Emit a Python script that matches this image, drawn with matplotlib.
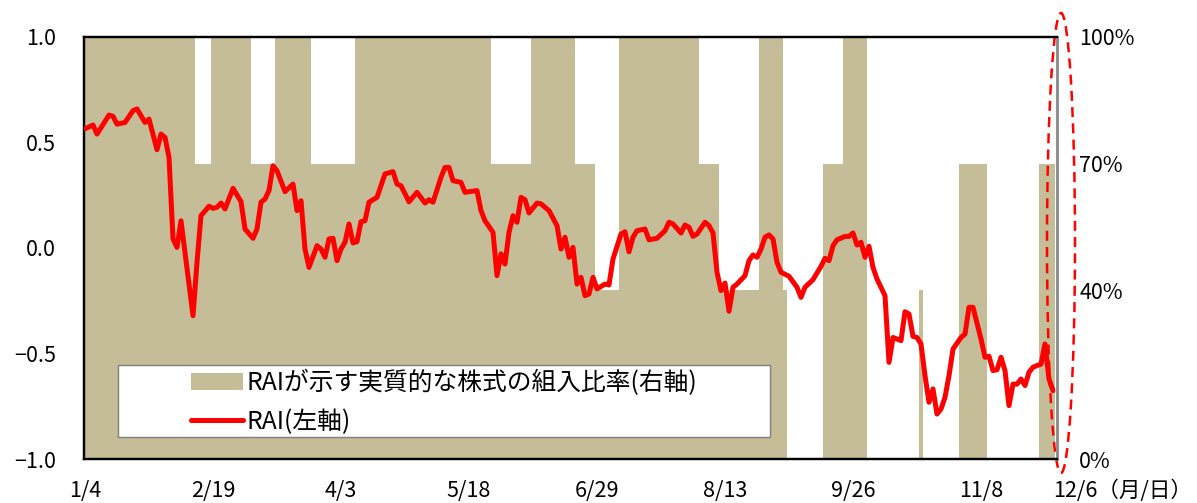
import numpy as np
import matplotlib
matplotlib.use("Agg")
import matplotlib.pyplot as plt
from matplotlib.patches import Patch, Rectangle, Ellipse
from matplotlib.lines import Line2D
from matplotlib.ticker import FixedLocator, FuncFormatter

plt.rcParams['font.family'] = ['Noto Sans CJK JP', 'DejaVu Sans']
plt.rcParams['axes.unicode_minus'] = True

# ---------------- data ----------------
# trading-day index (0 = 1/4) and RAI value
rai_day = [0, 2, 3, 6, 7, 8, 10, 12, 13, 15, 16, 18, 19, 20, 21, 22, 23, 24, 27, 28, 29,
           31, 32, 33, 34, 35, 37, 39, 40, 42, 43, 44, 45, 46, 47, 48, 50, 52, 53, 54, 55,
           56, 58, 59, 60, 61, 62, 63, 64, 65, 66, 67, 68, 69, 70, 71, 73, 75, 77, 78, 79,
           81, 83, 85, 86, 87, 89, 90, 91, 92, 94, 95, 98, 99, 100, 102, 103, 104, 105, 106,
           107, 108, 109, 110, 111, 113, 114, 116, 118, 119, 120, 121, 122, 123, 124, 125,
           126, 127, 128, 130, 131, 132, 134, 135, 136, 137, 138, 140, 141, 143, 145, 146,
           147, 149, 150, 151, 152, 153, 155, 156, 157, 158, 159, 160, 161, 162, 163, 165,
           166, 167, 168, 169, 170, 171, 172, 173, 174, 176, 178, 179, 180, 182, 184, 185,
           186, 187, 188, 190, 191, 192, 193, 194, 195, 196, 197, 198, 200, 201, 202, 204,
           205, 206, 207, 208, 209, 210, 211, 212, 213, 214, 215, 216, 217, 219, 220, 221,
           222, 224, 225, 226, 227, 228, 229, 230, 231, 232, 233, 234, 235, 236, 237, 239,
           240, 241, 242]
rai_value = [0.565, 0.583, 0.540, 0.630, 0.624, 0.587, 0.595, 0.651, 0.659, 0.595, 0.611,
             0.466, 0.540, 0.524, 0.430, 0.043, 0.003, 0.129, -0.321, -0.068, 0.153,
             0.198, 0.188, 0.193, 0.213, 0.185, 0.283, 0.220, 0.090, 0.046, 0.090, 0.217,
             0.232, 0.272, 0.390, 0.366, 0.267, 0.303, 0.177, 0.224, -0.005,
             -0.092, 0.011, -0.005, -0.044, 0.043, 0.046, -0.060, -0.005, 0.027, 0.114,
             0.024, 0.030, 0.125, 0.129, 0.217, 0.240, 0.351, 0.362, 0.303, 0.295,
             0.219, 0.264, 0.213, 0.229, 0.217, 0.335, 0.382, 0.382, 0.319, 0.311, 0.264,
             0.272, 0.177, 0.129, 0.074, -0.131, -0.028, -0.076, 0.074,
             0.153, 0.122, 0.240, 0.229, 0.166, 0.213, 0.209, 0.177, 0.106, -0.005, 0.051,
             -0.044, 0.003, -0.171, -0.139, -0.226,
             -0.218, -0.139, -0.194, -0.171, -0.175, -0.052, 0.066, 0.077, -0.018, 0.051,
             0.082, 0.090, 0.039, 0.046, 0.082, 0.122,
             0.114, 0.071, 0.109, 0.098, 0.055, 0.066, 0.122, 0.106, 0.071, -0.115, -0.202,
             -0.166, -0.300, -0.186, -0.171, -0.131,
             -0.060, -0.033, -0.044, -0.005, 0.051, 0.062, 0.043, -0.068, -0.115, -0.134,
             -0.186, -0.234, -0.186, -0.150, -0.087, -0.049,
             -0.060, 0.011, 0.039, 0.055, 0.055, 0.071, 0.014, 0.027, -0.044, 0.008, -0.092,
             -0.147, -0.226, -0.542, -0.424, -0.439,
             -0.302, -0.313, -0.419, -0.424, -0.455, -0.605, -0.731, -0.668, -0.787, -0.763,
             -0.708, -0.605, -0.479, -0.424, -0.408, -0.281,
             -0.281, -0.431, -0.518, -0.513, -0.581, -0.577, -0.518, -0.581, -0.747, -0.645,
             -0.645, -0.621, -0.652, -0.589, -0.565, -0.550,
             -0.455, -0.621, -0.676]

# equity allocation implied by RAI (right axis, %), run-length encoded by trading day
alloc_start = [0, 28, 32, 42, 48, 57, 68, 102, 112, 123, 128, 134, 154, 159, 169, 175,
               176, 185, 190, 196, 209, 210, 219, 226, 239]
alloc_level = [100, 70, 100, 70, 100, 70, 100, 70, 100, 70, 40, 100, 70, 40, 100, 40,
               0, 70, 100, 0, 40, 0, 70, 0, 70]
n_days = 243

tick_days = [0, 32, 64, 96, 128, 160, 192, 224, 242]
tick_labels = ["1/4", "2/19", "4/3", "5/18", "6/29", "8/13", "9/26", "11/8", "12/6（月/日）"]
left_ticks = [-1.0, -0.5, 0.0, 0.5, 1.0]
right_ticks = [0, 40, 70, 100]

legend_bar = "RAIが示す実質的な株式の組入比率(右軸)"
legend_line = "RAI(左軸)"

TAN = "#C4BD97"
RED = "#FF0000"

# ---------------- figure ----------------
W, H = 1197, 503
fig = plt.figure(figsize=(W / 100, H / 100), dpi=100)

def fx(px):
    return px / W

def fy(py):
    return 1 - py / H

ax = fig.add_axes([fx(84), fy(459), fx(1057) - fx(84), fy(37) - fy(459)])
ax2 = ax.twinx()

# allocation bars as a filled step shape
lengths = np.diff(alloc_start + [n_days])
alloc = np.repeat(alloc_level, lengths)
edges = np.arange(n_days + 1) - 0.5
ax2.stairs(alloc, edges, fill=True, color=TAN, linewidth=0, baseline=0)
ax2.set_ylim(0, 100)

ax.plot(rai_day, rai_value, color=RED, linewidth=3.6, solid_joinstyle='round',
        solid_capstyle='round', zorder=3)
ax.set_ylim(-1.0, 1.0)
ax.set_xlim(-0.25, 243)

ax.set_zorder(ax2.get_zorder() + 1)
ax.patch.set_visible(False)

# ticks
ax.yaxis.set_major_locator(FixedLocator(left_ticks))
ax.yaxis.set_major_formatter(FuncFormatter(lambda v, p: f"{v:.1f}".replace("-", "\u2212")))
ax2.yaxis.set_major_locator(FixedLocator(right_ticks))
ax2.yaxis.set_major_formatter(FuncFormatter(lambda v, p: f"{v:.0f}%"))
ax.set_xticks(tick_days)
ax.set_xticklabels(tick_labels)
ax.xaxis.get_majorticklabels()[-1].set_horizontalalignment('left')

ax.tick_params(axis='y', length=0, pad=20, labelsize=15.5)
ax.tick_params(axis='x', length=0, pad=15, labelsize=15.5)
ax2.tick_params(axis='y', length=0, pad=16, labelsize=15.5)

for a in (ax, ax2):
    for s in ('left', 'top', 'bottom'):
        a.spines[s].set_color('black')
        a.spines[s].set_linewidth(1.6)
    a.spines['right'].set_color('#8C8C8C')
    a.spines['right'].set_linewidth(1.8)

# legend box
frame = Rectangle((fx(118), fy(437)), fx(770) - fx(118), fy(365) - fy(437),
                  transform=fig.transFigure, facecolor='white', edgecolor='#7F7F7F',
                  linewidth=1.0, zorder=4)
ax.add_artist(frame)
frame.set_clip_on(False)
handles = [Patch(facecolor=TAN, edgecolor='none'),
           Line2D([], [], color=RED, linewidth=3.6, solid_capstyle='round')]
leg = ax.legend(handles, [legend_bar, legend_line], loc='upper left',
                bbox_to_anchor=(fx(191), fy(370)), bbox_transform=fig.transFigure,
                frameon=False, fontsize=17.8, handlelength=2.1, handletextpad=0.15,
                borderpad=0, borderaxespad=0, labelspacing=0.5, handleheight=0.7)
leg.set_zorder(5)

# dashed highlight ellipse around the latest period
ell = Ellipse((fx(1061), fy(243)), fx(28), fy(0) - fy(460), transform=fig.transFigure,
              fill=False, edgecolor=RED, linewidth=1.8, linestyle=(0, (4, 2.5)))
fig.add_artist(ell)

fig.savefig("out.png", dpi=100)
